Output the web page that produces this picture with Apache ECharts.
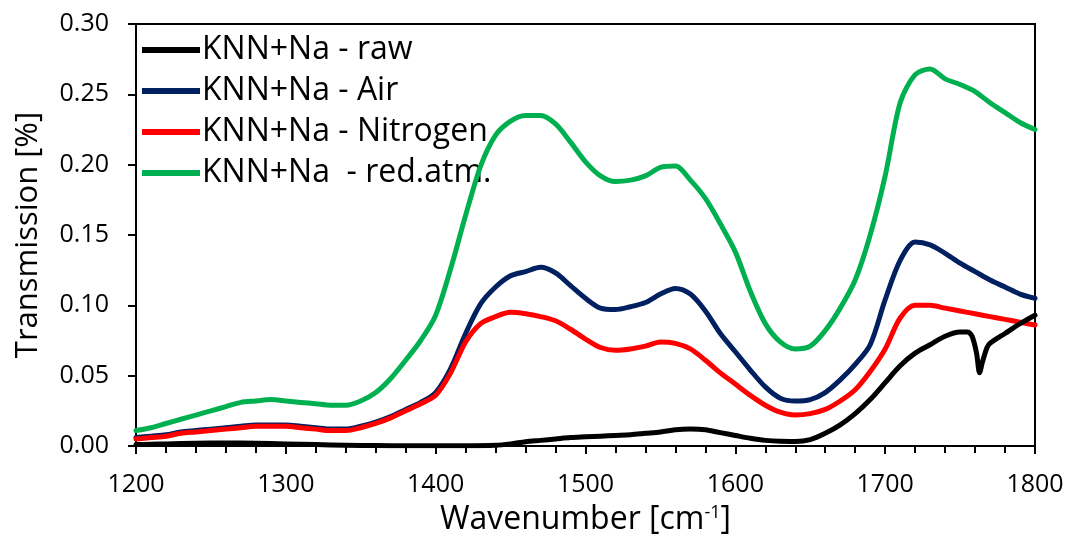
<!DOCTYPE html>
<html>
<head>
<meta charset="utf-8">
<script src="https://cdn.jsdelivr.net/npm/echarts@6/dist/echarts.min.js"></script>
<style>html,body{margin:0;padding:0;background:#fff;}#c{width:1068px;height:543px;}</style>
</head>
<body>
<div id="c"></div>
<script>
// ---- data ----
const wavenumber = [1200,1210,1220,1230,1240,1250,1260,1270,1280,1290,1300,1310,1320,1330,1340,1350,1360,1370,1380,1390,1400,1410,1420,1430,1440,1450,1460,1470,1480,1490,1500,1510,1520,1530,1540,1550,1560,1570,1580,1590,1600,1610,1620,1630,1640,1650,1660,1670,1680,1690,1700,1710,1720,1730,1740,1750,1760,1770,1780,1790,1800];
const airValues = [0.006,0.007,0.008,0.010,0.011,0.012,0.013,0.014,0.015,0.015,0.015,0.014,0.013,0.012,0.012,0.014,0.017,0.021,0.026,0.031,0.038,0.055,0.080,0.101,0.113,0.121,0.124,0.127,0.123,0.114,0.105,0.098,0.097,0.099,0.102,0.108,0.112,0.108,0.096,0.080,0.067,0.054,0.042,0.034,0.032,0.033,0.038,0.047,0.058,0.072,0.104,0.132,0.145,0.143,0.137,0.130,0.124,0.118,0.113,0.108,0.105];
const nitrogenValues = [0.005,0.006,0.007,0.009,0.010,0.011,0.012,0.013,0.014,0.014,0.014,0.013,0.012,0.011,0.011,0.013,0.016,0.020,0.025,0.030,0.036,0.052,0.074,0.087,0.092,0.095,0.094,0.092,0.089,0.083,0.076,0.070,0.068,0.069,0.071,0.074,0.073,0.069,0.061,0.052,0.044,0.036,0.029,0.024,0.022,0.023,0.026,0.032,0.040,0.053,0.069,0.091,0.100,0.100,0.098,0.096,0.094,0.092,0.090,0.088,0.086];
const redAtmValues = [0.011,0.013,0.016,0.019,0.022,0.025,0.028,0.031,0.032,0.033,0.032,0.031,0.030,0.029,0.029,0.032,0.038,0.048,0.061,0.075,0.093,0.126,0.164,0.199,0.221,0.231,0.235,0.235,0.229,0.216,0.202,0.192,0.188,0.189,0.192,0.198,0.199,0.189,0.176,0.158,0.138,0.110,0.087,0.074,0.069,0.071,0.082,0.098,0.118,0.150,0.192,0.244,0.264,0.268,0.261,0.257,0.252,0.244,0.237,0.230,0.225];
const rawWavenumber = [1200,1210,1220,1240,1260,1280,1300,1320,1340,1360,1380,1400,1420,1440,1450,1460,1470,1480,1490,1500,1510,1520,1530,1540,1550,1560,1570,1580,1590,1600,1610,1620,1630,1640,1650,1660,1670,1680,1690,1700,1710,1720,1730,1740,1750,1755,1758,1761,1763,1765,1768,1770,1780,1790,1800];
const rawValues = [0.001,0.0012,0.0015,0.002,0.0022,0.002,0.0015,0.001,0.0005,0.0003,0.0002,0.0002,0.0002,0.0005,0.0015,0.003,0.004,0.005,0.006,0.0065,0.007,0.0075,0.008,0.009,0.010,0.0115,0.012,0.0115,0.0095,0.0075,0.0055,0.004,0.0033,0.0032,0.0045,0.009,0.015,0.023,0.033,0.045,0.057,0.066,0.072,0.078,0.081,0.081,0.078,0.066,0.052,0.060,0.070,0.073,0.080,0.087,0.093];
const seriesNames = ['KNN+Na - raw','KNN+Na - Air','KNN+Na - Nitrogen','KNN+Na  - red.atm.'];
const xTicks = {min:1200, max:1800, interval:100};
const yTicks = {min:0, max:0.30, interval:0.05};

const pairs = (xs, ys) => xs.map((x, i) => [x, ys[i]]);
const FONT = 'Open Sans';
const chart = echarts.init(document.getElementById('c'), null, {renderer:'canvas'});
const mk = (name, xs, ys, color, z) => ({
  name, type:'line', data:pairs(xs, ys), showSymbol:false, symbol:'none', smooth:0.3, z,
  lineStyle:{color, width:5, cap:'round', join:'round'}, itemStyle:{color}
});
chart.setOption({
  animation:false,
  backgroundColor:'#fff',
  textStyle:{fontFamily:FONT},
  grid:{left:136, right:33, top:24, bottom:97, show:true, borderColor:'#000', borderWidth:2, backgroundColor:'transparent'},
  legend:{
    data:seriesNames, orient:'vertical', left:137, top:28, itemWidth:58, itemHeight:6, itemGap:7, icon:'rect',
    textStyle:{fontFamily:FONT, fontSize:32, color:'#000', lineHeight:34, padding:[0,0,0,-3]}
  },
  xAxis:{
    type:'value', min:xTicks.min, max:xTicks.max, interval:xTicks.interval,
    name:'Wavenumber [cm{sup|-1}]', nameLocation:'middle', nameGap:58,
    nameTextStyle:{fontFamily:FONT, fontSize:32, color:'#000', rich:{sup:{fontFamily:FONT, fontSize:18, color:'#000', verticalAlign:'top', padding:[0,0,14,0]}}},
    axisLine:{lineStyle:{color:'#000', width:2}},
    axisTick:{show:true, inside:false, length:8, lineStyle:{color:'#000', width:2}},
    minorTick:{show:true, splitNumber:5, length:7, lineStyle:{color:'#000', width:2}},
    axisLabel:{fontFamily:FONT, fontSize:25, color:'#000', margin:26, formatter:v => String(v)},
    splitLine:{show:false}
  },
  yAxis:{
    type:'value', min:yTicks.min, max:yTicks.max, interval:yTicks.interval,
    name:'Transmission [%]', nameLocation:'middle', nameGap:92,
    nameTextStyle:{fontFamily:FONT, fontSize:31, color:'#000'},
    axisLine:{lineStyle:{color:'#000', width:2}},
    axisTick:{show:true, inside:false, length:8, lineStyle:{color:'#000', width:2}},
    axisLabel:{fontFamily:FONT, fontSize:25, color:'#000', margin:27, formatter:v => v.toFixed(2)},
    splitLine:{show:false}
  },
  series:[
    mk(seriesNames[0], rawWavenumber, rawValues, '#000000', 6),
    mk(seriesNames[1], wavenumber, airValues, '#002060', 3),
    mk(seriesNames[2], wavenumber, nitrogenValues, '#ff0000', 4),
    mk(seriesNames[3], wavenumber, redAtmValues, '#00b050', 5)
  ]
});
</script>
</body>
</html>
